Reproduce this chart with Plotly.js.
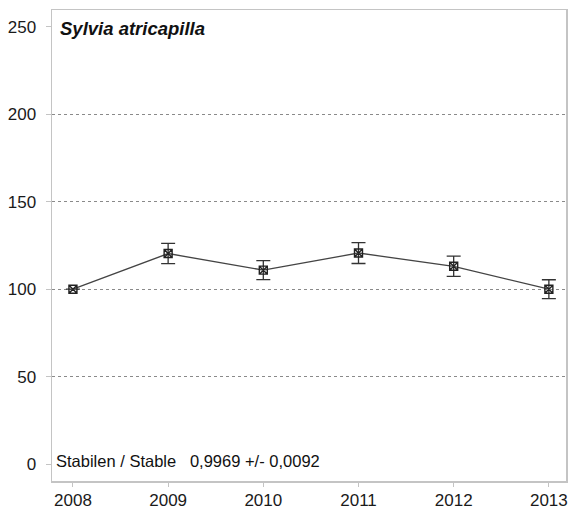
<!DOCTYPE html>
<html>
<head>
<meta charset="utf-8">
<script src="https://cdn.plot.ly/plotly-3.0.1.min.js"></script>
<style>html,body{margin:0;padding:0;background:#fff;}#chart{width:574px;height:510px;}</style>
</head>
<body>
<div id="chart"></div>
<script>
const years = [2008, 2009, 2010, 2011, 2012, 2013];
const index = [100, 120.4, 110.9, 120.7, 113.1, 100];
const errs = [0, 5.8, 5.4, 6.0, 5.8, 5.4];
const yTicks = [0, 50, 100, 150, 200, 250];
const gridTicks = [50, 100, 150, 200];
const speciesName = "Sylvia atricapilla";
const trendText = "Stabilen / Stable   0,9969 +/- 0,0092";

const fam = "'Liberation Sans', Arial, sans-serif";
const tickFont = {family: fam, size: 17, color: "#1a1a1a"};

const trace = {
  x: years, y: index, type: "scatter", mode: "lines+markers",
  line: {color: "#444", width: 1.3},
  marker: {symbol: "square-x-open", size: 8, color: "#222", line: {width: 1.4}},
  error_y: {type: "data", array: errs, visible: true, color: "#333", thickness: 1.3, width: 7},
  showlegend: false, hoverinfo: "skip"
};

const layout = {
  width: 574, height: 510,
  margin: {l: 52, r: 8, t: 10, b: 29},
  paper_bgcolor: "#fff", plot_bgcolor: "#fff",
  font: tickFont,
  xaxis: {
    range: [2007.78, 2013.18], tickvals: years, ticktext: years.map(String),
    showgrid: false, zeroline: false, showline: true, mirror: true,
    linecolor: "#c4c4c4", linewidth: 1.5, ticks: "outside", ticklen: 4, tickcolor: "#c4c4c4",
    tickfont: tickFont, ticklabelstandoff: -1
  },
  yaxis: {
    range: [-9.7, 259.7], tickvals: yTicks,
    showgrid: false, zeroline: false, showline: true, mirror: true,
    linecolor: "#c4c4c4", linewidth: 1.5, ticks: "outside", ticklen: 5, tickcolor: "#c4c4c4",
    tickfont: tickFont, ticklabelstandoff: 6
  },
  yaxis2: {
    range: [-9.7, 259.7], overlaying: "y", tickvals: gridTicks, showticklabels: false,
    showgrid: true, gridcolor: "#8a8a8a", griddash: "dot", gridwidth: 1,
    zeroline: false, showline: false, ticks: ""
  },
  annotations: [
    {xref: "paper", yref: "paper", x: 0.012, y: 0.988, xanchor: "left", yanchor: "top",
     text: "<b><i>" + speciesName + "</i></b>", showarrow: false,
     font: {family: fam, size: 18.5, color: "#111"}},
    {xref: "paper", yref: "paper", x: 0.003, y: 0.02, xanchor: "left", yanchor: "bottom",
     text: trendText, showarrow: false,
     font: {family: fam, size: 16.5, color: "#111"}}
  ]
};

const gridTrace = {x: [years[0]], y: [null], yaxis: "y2", type: "scatter", mode: "markers",
  showlegend: false, hoverinfo: "skip"};

Plotly.newPlot("chart", [gridTrace, trace], layout, {staticPlot: true});
</script>
</body>
</html>
